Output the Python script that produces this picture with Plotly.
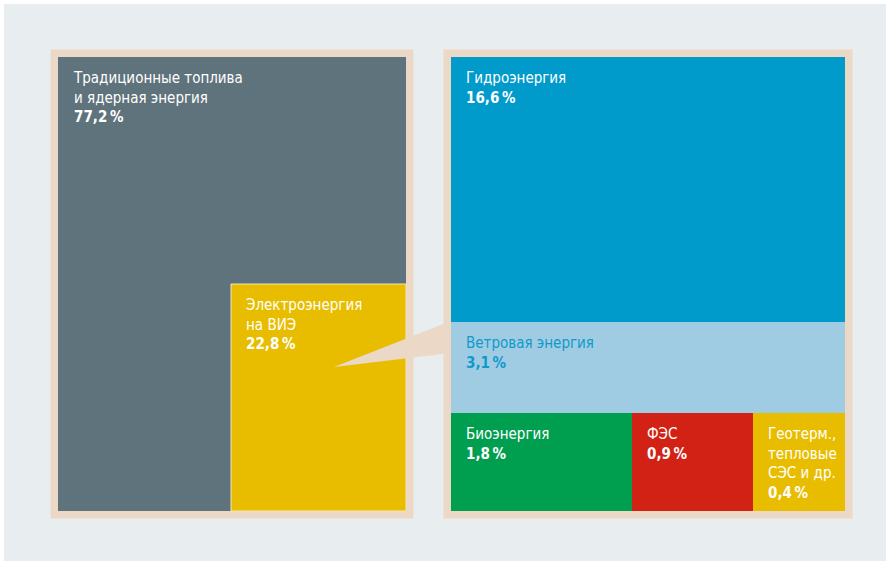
import plotly.graph_objects as go

# Structure of electricity generation by source, %
categories = [
    "Традиционные топлива и ядерная энергия",
    "Электроэнергия на ВИЭ",
    "Гидроэнергия",
    "Ветровая энергия",
    "Биоэнергия",
    "ФЭС",
    "Геотерм., тепловые СЭС и др.",
]
label_lines = [
    ["Традиционные топлива", "и ядерная энергия"],
    ["Электроэнергия", "на ВИЭ"],
    ["Гидроэнергия"],
    ["Ветровая энергия"],
    ["Биоэнергия"],
    ["ФЭС"],
    ["Геотерм.,", "тепловые", "СЭС и др."],
]
shares = [77.2, 22.8, 16.6, 3.1, 1.8, 0.9, 0.4]

# Styling
tile_colors = ["#5F737C", "#E8BD00", "#009ACB", "#9FCCE3", "#009E4F", "#D22215", "#E8BD00"]
text_colors = ["white", "white", "white", "#0F9ACB", "white", "white", "white"]
FRAME = "#EBD8C6"
BACKDROP = "#E8EDF0"
FONT = "DejaVu Sans Condensed, Roboto, sans-serif"
FONT_SIZE = 15

W, H = 886, 561

# Schematic layout (canvas pixels): panel grids
left_cols = [58, 231, 406]
left_rows = [57, 284, 511]
right_cols = [451, 632, 753, 845]
right_rows = [57, 322, 413, 511]

tiles = [
    (left_cols[0], left_rows[0], left_cols[2], left_rows[2]),
    (left_cols[1], left_rows[1], left_cols[2], left_rows[2]),
    (right_cols[0], right_rows[0], right_cols[3], right_rows[1]),
    (right_cols[0], right_rows[1], right_cols[3], right_rows[2]),
    (right_cols[0], right_rows[2], right_cols[1], right_rows[3]),
    (right_cols[1], right_rows[2], right_cols[2], right_rows[3]),
    (right_cols[2], right_rows[2], right_cols[3], right_rows[3]),
]
label_offset = (13, 10)
frame_pad = 7.5


def fmt(v):
    return f"{v:.1f}".replace(".", ",") + "\u2009%"


fig = go.Figure()

shapes = [
    dict(type="rect", x0=4, y0=4, x1=W + 2, y1=H + 2, fillcolor=BACKDROP,
         line=dict(width=0), layer="below"),
]
for cols, rows in ((left_cols, left_rows), (right_cols, right_rows)):
    shapes.append(dict(type="rect", x0=cols[0] - frame_pad, y0=rows[0] - frame_pad,
                       x1=cols[-1] + frame_pad, y1=rows[-1] + frame_pad,
                       fillcolor=FRAME, line=dict(width=0), layer="below"))

# Tiles
for i, (x0, y0, x1, y1) in enumerate(tiles):
    fig.add_trace(go.Scatter(
        x=[x0, x1, x1, x0, x0], y=[y0, y0, y1, y1, y0],
        mode="lines", fill="toself", fillcolor=tile_colors[i],
        line=dict(width=1 if i == 1 else 0, color="#F3E6B8" if i == 1 else tile_colors[i]),
        name=categories[i], hoverinfo="text",
        hovertext=f"{categories[i]}: {fmt(shares[i])}",
        showlegend=False,
    ))

# Callout wedge from the renewables tile to the breakdown panel
tip = (334, 367)
wedge_x = [tip[0], 447, 447, tip[0]]
wedge_y = [tip[1], 322.5, 353.5, tip[1]]
fig.add_trace(go.Scatter(x=wedge_x, y=wedge_y, mode="lines", fill="toself",
                         fillcolor=FRAME, line=dict(width=0), hoverinfo="skip",
                         showlegend=False))

annotations = []
for i, (x0, y0, x1, y1) in enumerate(tiles):
    text = "<br>".join(label_lines[i]) + f"<br><b>{fmt(shares[i])}</b>"
    annotations.append(dict(
        x=x0 + label_offset[0], y=y0 + label_offset[1], xref="x", yref="y",
        xanchor="left", yanchor="top", align="left", showarrow=False,
        text=text, font=dict(family=FONT, size=FONT_SIZE, color=text_colors[i]),
    ))

fig.update_layout(
    width=W, height=H, margin=dict(l=0, r=0, t=0, b=0),
    paper_bgcolor="white", plot_bgcolor="rgba(0,0,0,0)",
    xaxis=dict(range=[0, W], visible=False, fixedrange=True),
    yaxis=dict(range=[H, 0], visible=False, fixedrange=True),
    shapes=shapes, annotations=annotations,
)

fig.write_html("out.html")
